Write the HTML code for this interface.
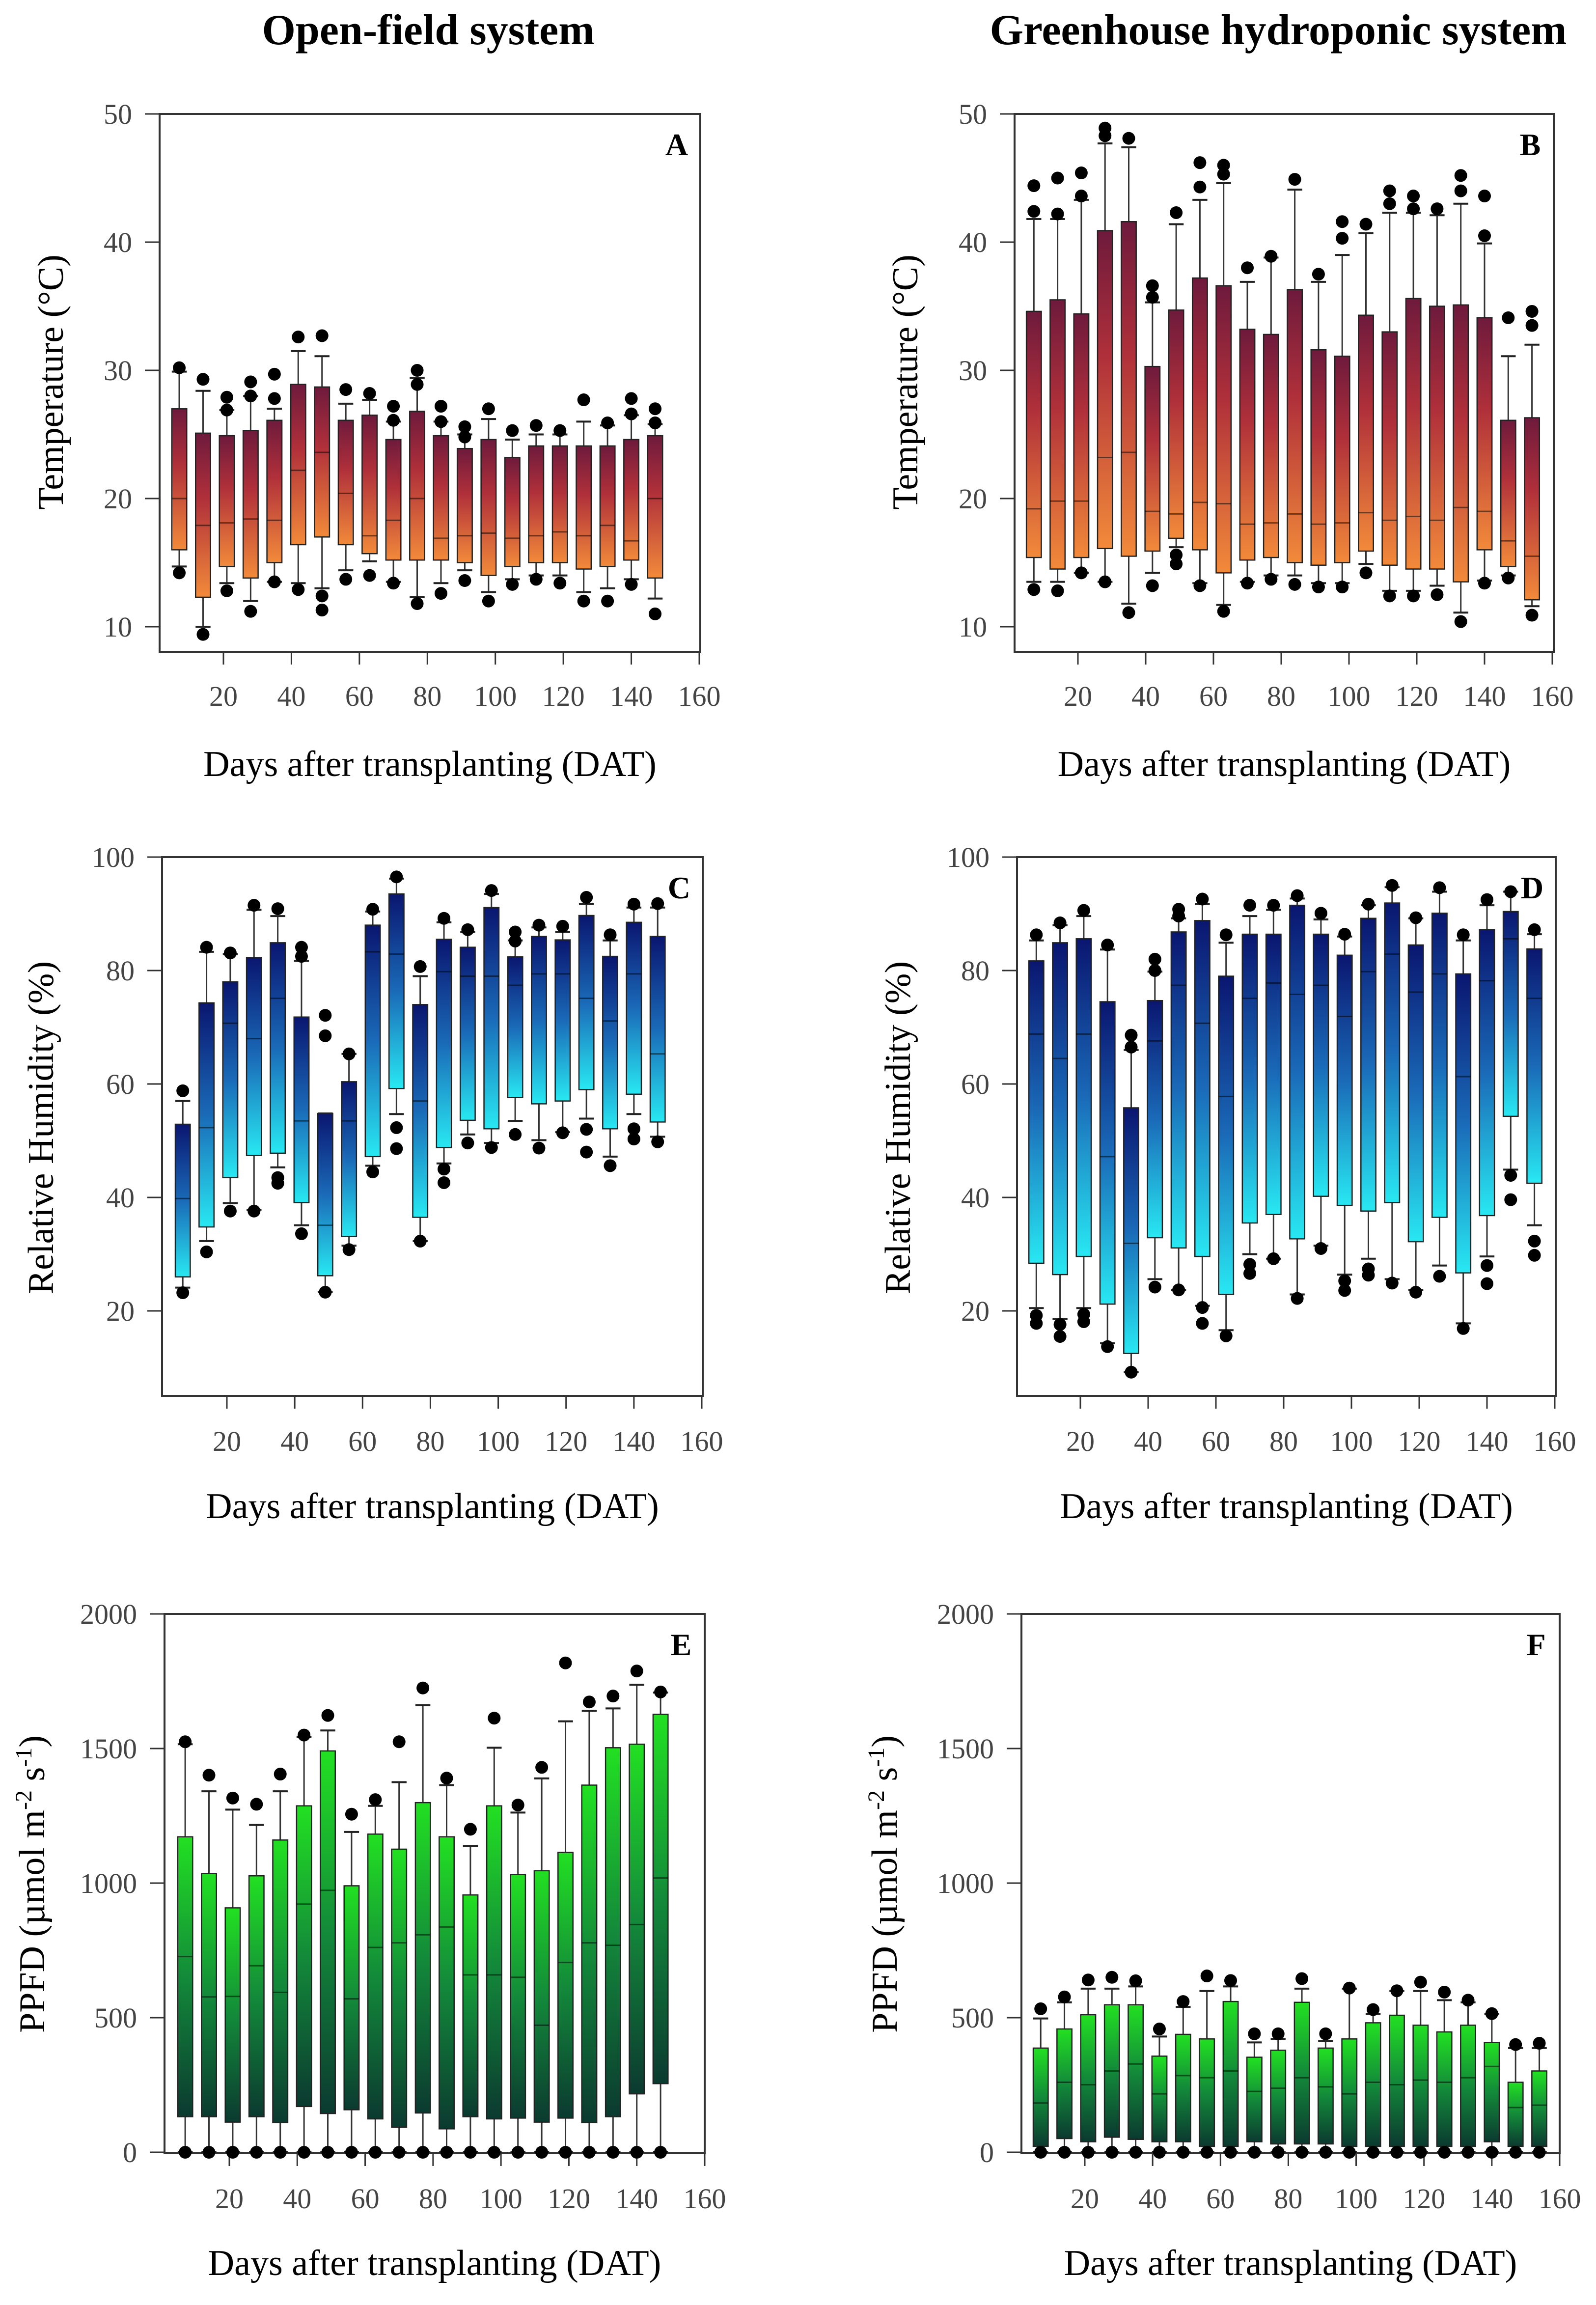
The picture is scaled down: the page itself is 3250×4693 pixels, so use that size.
<!DOCTYPE html>
<html><head><meta charset="utf-8"><style>
html,body{margin:0;padding:0;background:#fff}
svg{display:block}
text{font-family:"Liberation Serif",serif}
</style></head><body>
<svg id="fig" width="3250" height="4693" viewBox="0 0 3250 4693" xmlns="http://www.w3.org/2000/svg">
<defs>
<linearGradient id="gTemp" x1="0" y1="0" x2="0" y2="1"><stop offset="0" stop-color="#6e1a3c"/><stop offset="0.4" stop-color="#b0303a"/><stop offset="1" stop-color="#f28a3a"/></linearGradient>
<linearGradient id="gHum" x1="0" y1="0" x2="0" y2="1"><stop offset="0" stop-color="#0a1670"/><stop offset="0.5" stop-color="#1a6ab8"/><stop offset="1" stop-color="#28e8f2"/></linearGradient>
<linearGradient id="gPar" x1="0" y1="0" x2="0" y2="1"><stop offset="0" stop-color="#22e022"/><stop offset="0.5" stop-color="#138a3a"/><stop offset="1" stop-color="#0b3a30"/></linearGradient>
</defs>
<text x="872" y="90" font-size="88" font-weight="bold" text-anchor="middle">Open-field system</text>
<text x="2603" y="90" font-size="88" font-weight="bold" text-anchor="middle">Greenhouse hydroponic system</text>
</svg>
<script>
// ---- Panel A: open-field temperature ----
const daysA = [7,14,21,28,35,42,49,56,63,70,77,84,91,98,105,112,119,126,133,140,147];
const aQ1  = [16.0,12.3,14.7,13.8,15.0,16.4,17.0,16.4,15.7,15.2,15.2,15.2,15.0,14.0,14.7,15.0,15.0,14.5,14.7,15.2,13.8];
const aMed = [20.0,17.9,18.1,18.4,18.3,22.2,23.6,20.4,17.1,18.3,20.0,16.9,17.1,17.3,16.9,17.1,17.4,17.1,17.9,16.7,20.0];
const aQ3  = [27.0,25.1,24.9,25.3,26.1,28.9,28.7,26.1,26.5,24.6,26.8,24.9,23.9,24.6,23.2,24.1,24.1,24.1,24.1,24.6,24.9];
const aLo  = [14.7,10.0,13.4,12.0,13.5,13.4,13.0,14.4,15.1,13.5,12.3,13.4,14.4,12.7,13.7,14.0,14.0,12.7,13.0,13.7,12.2];
const aHi  = [29.9,28.4,26.9,28.0,27.0,31.5,31.1,27.4,27.7,26.0,29.4,26.0,25.0,26.2,24.6,25.0,25.0,26.0,25.7,26.5,25.8];
const aOutHi = [[30.2],[29.3],[27.9,26.9],[29.1,28.0],[29.7,27.8],[32.6],[32.7],[28.5],[28.2],[27.2,26.1],[30.0,28.9],[27.2,26.0],[25.6,24.8],[27.0],[25.3],[25.7],[25.3],[27.7],[25.9],[27.8,26.6],[27.0,25.9]];
const aOutLo = [[14.2],[9.4],[12.8],[11.2],[13.5],[12.9],[12.4,11.3],[13.7],[14.0],[13.4],[11.8],[12.6],[13.6],[12.0],[13.3],[13.7],[13.4],[12.0],[12.0],[13.3],[11.0]];

// ---- Panel B: greenhouse temperature ----
const daysB = [7,14,21,28,35,42,49,56,63,70,77,84,91,98,105,112,119,126,133,140,147,154];
const bQ1  = [15.4,14.5,15.4,16.1,15.5,15.9,16.9,16.0,14.2,15.2,15.4,15.0,14.8,15.0,15.9,14.8,14.5,14.5,13.5,16.0,14.7,12.1];
const bMed = [19.2,19.8,19.8,23.2,23.6,19.0,18.8,19.7,19.6,18.0,18.1,18.8,18.0,18.1,18.9,18.3,18.6,18.3,19.3,19.0,16.7,15.5];
const bQ3  = [34.6,35.5,34.4,40.9,41.6,30.3,34.7,37.2,36.6,33.2,32.8,36.3,31.6,31.1,34.3,33.0,35.6,35.0,35.1,34.1,26.1,26.3];
const bLo  = [13.5,13.5,14.2,13.5,11.8,14.2,16.2,13.4,11.7,13.5,14.0,14.0,13.4,13.4,14.9,12.8,12.8,13.2,11.1,13.6,14.0,11.6];
const bHi  = [41.8,41.8,43.3,47.7,47.4,35.3,41.4,43.3,44.6,36.9,38.8,44.1,36.9,39.0,40.7,42.3,42.3,42.1,43.0,39.9,31.1,32.0];
const bOutHi = [[44.4,42.4],[45.0,42.2],[45.4,43.6],[48.9,48.3],[48.1],[36.6,35.7],[42.3],[46.2,44.3],[46.0,45.3],[38.0],[38.9],[44.9],[37.5],[41.6,40.3],[41.4],[44.0,43.0],[43.6,42.6],[42.6],[45.2,44.0],[43.6,40.5],[34.1],[34.6,33.5]];
const bOutLo = [[12.9],[12.8],[14.2],[13.5],[11.1],[13.2],[15.6,14.9],[13.2],[11.2],[13.4],[13.7],[13.3],[13.1],[13.1],[14.2],[12.4],[12.4],[12.5],[10.4],[13.4],[13.8],[10.9]];

// ---- Panel C: open-field humidity ----
const daysC = daysA;
const cQ1  = [26.0,34.8,43.5,47.4,47.8,39.1,26.2,33.1,47.2,59.2,36.5,48.8,53.6,52.1,57.6,56.5,57.0,59.0,52.1,58.2,53.3];
const cMed = [39.8,52.3,70.7,68.0,75.1,53.5,35.1,53.5,83.3,82.9,57.0,79.8,79.0,79.0,77.4,79.4,79.4,75.1,71.1,79.4,65.3];
const cQ3  = [52.9,74.3,78.0,82.3,84.9,71.8,54.8,60.4,88.0,93.5,74.0,85.5,84.1,91.1,82.4,86.0,85.4,89.7,82.5,88.5,86.0];
const cLo  = [24.1,32.3,39.0,37.8,45.3,35.1,23.3,31.5,45.6,54.7,32.3,46.0,51.1,49.6,53.5,50.1,51.5,53.9,47.2,54.7,50.7];
const cHi  = [57.0,83.3,82.9,90.7,89.6,81.7,54.8,65.3,90.4,96.2,79.0,88.5,86.8,93.5,85.3,87.6,86.8,91.7,85.3,91.1,91.1];
const cOutHi = [[58.8],[84.1],[83.1],[91.5],[90.9],[84.1,82.5],[72.1,68.5],[65.3],[90.8],[96.5],[80.7],[89.2],[87.2],[94.1],[86.8,85.2],[88.0],[87.8],[92.9],[86.3],[91.7],[91.8]];
const cOutLo = [[23.2],[30.4],[37.6],[37.6],[43.5,42.5],[33.6],[23.3],[30.8],[44.5],[52.3,48.6],[32.3],[45.0,42.6],[49.6],[48.8],[51.1],[48.7],[51.4],[52.0,48.0],[45.6],[52.1,50.3],[49.8]];

// ---- Panel D: greenhouse humidity ----
const daysD = daysB;
const dQ1  = [28.4,26.4,29.6,21.2,12.5,32.9,31.1,29.6,22.9,35.5,37.0,32.7,40.2,38.6,37.6,39.1,32.2,36.5,26.7,36.8,54.3,42.5];
const dMed = [68.8,64.5,68.8,47.2,31.9,67.6,77.4,70.7,57.8,75.1,77.8,75.8,77.4,71.9,79.8,82.9,76.2,79.4,61.3,78.2,85.6,75.1];
const dQ3  = [81.7,84.9,85.6,74.5,55.8,74.7,86.8,88.8,79.0,86.4,86.4,91.5,86.4,82.7,89.2,91.9,84.5,90.1,79.4,87.2,90.4,83.8];
const dLo  = [20.5,18.6,20.5,14.3,9.2,25.6,23.7,20.9,16.6,30.0,29.2,22.9,31.5,26.4,29.2,25.6,23.7,28.0,17.8,29.6,44.9,35.1];
const dHi  = [85.3,88.0,89.6,83.7,66.0,79.8,89.2,91.7,84.9,89.6,90.7,92.7,89.0,86.0,91.5,94.7,89.2,93.9,85.3,91.5,93.9,86.4];
const dOutHi = [[86.3],[88.4],[90.6],[84.5],[68.6,66.5],[82.0,80.0],[90.8,89.6],[92.6],[86.3],[91.5],[91.5],[93.2],[90.1],[86.4],[91.7],[95.0],[89.3],[94.6],[86.3],[92.5],[93.9],[87.2]];
const dOutLo = [[19.2,17.8],[17.6,15.5],[19.4,18.1],[13.7],[9.2],[24.2],[23.7],[20.6,17.8],[15.6],[28.2,26.6],[29.2],[22.2],[31.0],[25.3,23.6],[27.4,26.3],[24.9],[23.3],[26.1],[16.9],[28.0,24.8],[43.9,39.6],[32.3,29.8]];

// ---- Panel E: open-field PPFD ----
const daysE = daysA;
const eQ1  = [132,132,112,132,110,170,144,158,124,93,146,87,132,124,127,112,127,110,132,217,255];
const eMed = [727,577,579,693,594,922,973,570,761,778,808,837,659,659,650,472,705,778,769,846,1019];
const eQ3  = [1172,1036,908,1027,1160,1287,1491,990,1182,1126,1299,1172,956,1287,1032,1046,1114,1364,1503,1516,1627];
const eLo  = [0,0,0,0,0,0,0,0,0,0,0,0,0,0,0,0,0,0,0,0,0];
const eHi  = [1516,1341,1273,1216,1341,1542,1567,1190,1287,1375,1661,1364,1138,1503,1262,1389,1601,1640,1649,1737,1708];
const eOutHi = [[1525],[1401],[1316],[1293],[1405],[1550],[1623],[1256],[1310],[1525],[1725],[1390],[1200],[1613],[1290],[1430],[1818],[1673],[1695],[1788],[1710]];
const eOutLo = [[0],[0],[0],[0],[0],[0],[0],[0],[0],[0],[0],[0],[0],[0],[0],[0],[0],[0],[0],[0],[0]];

// ---- Panel F: greenhouse PPFD ----
const daysF = daysB;
const fQ1  = [22,51,39,56,48,39,39,22,22,39,31,31,31,22,22,22,22,22,22,39,22,22];
const fMed = [183,260,251,302,328,217,285,277,302,226,238,277,243,217,260,251,268,260,277,319,166,175];
const fQ3  = [387,458,511,548,548,357,438,421,560,353,379,557,387,421,481,509,472,447,472,408,260,302];
const fLo  = [0,0,0,0,0,0,0,0,0,0,0,0,0,0,0,0,0,0,0,0,0,0];
const fHi  = [497,557,608,608,616,430,540,599,616,408,421,608,413,608,514,599,599,565,557,514,387,387];
const fOutHi = [[533],[577],[640],[650],[637],[458],[560],[655],[638],[440],[440],[645],[440],[610],[530],[600],[632],[595],[565],[515],[400],[405]];
const fOutLo = [[0],[0],[0],[0],[0],[0],[0],[0],[0],[0],[0],[0],[0],[0],[0],[0],[0],[0],[0],[0],[0],[0]];

const xTicks = [20,40,60,80,100,120,140,160];
const tTicks = [10,20,30,40,50];
const hTicks = [20,40,60,80,100];
const pTicks = [0,500,1000,1500,2000];

const NS = "http://www.w3.org/2000/svg";
const svg = document.getElementById('fig');
function mk(tag, attrs, parent){ const e=document.createElementNS(NS,tag); for(const k in attrs) e.setAttribute(k,attrs[k]); (parent||svg).appendChild(e); return e; }

function panel(p){
  const g = mk('g',{});
  
  
  const xs = d => p.x20 + (d-20)*(p.x160-p.x20)/140;
  const ys = v => p.yA + (v-p.vA)*(p.yB-p.yA)/(p.vB-p.vA);
  const fr = mk('rect',{x:p.L,y:p.T,width:p.R-p.L,height:p.B-p.T,fill:'none',stroke:'#333','stroke-width':4},g);
  
  
  p.yt.forEach(v=>{
    mk('line',{x1:p.L-30,x2:p.L,y1:ys(v),y2:ys(v),stroke:'#333','stroke-width':3},g);
    const t = mk('text',{x:p.L-56,y:ys(v)+20,'font-size':58,'text-anchor':'end',fill:'#444'},g);
    t.textContent = v;
    
    
  });
  xTicks.forEach(d=>{
    mk('line',{x1:xs(d),x2:xs(d),y1:p.B,y2:p.B+26,stroke:'#333','stroke-width':3},g);
    const t = mk('text',{x:xs(d),y:p.xl,'font-size':58,'text-anchor':'middle',fill:'#444'},g);
    t.textContent = d;
    
    
  });
  const bw = 4.4*(p.x160-p.x20)/140;
  p.days.forEach((d,i)=>{
    const cx = xs(d);
    const bg = mk('g',{},g);
    
    
    mk('line',{x1:cx,x2:cx,y1:ys(p.hi[i]),y2:ys(p.q3[i]),stroke:'#333','stroke-width':3},bg);
    mk('line',{x1:cx,x2:cx,y1:ys(p.q1[i]),y2:ys(p.lo[i]),stroke:'#333','stroke-width':3},bg);
    mk('line',{x1:cx-bw/2,x2:cx+bw/2,y1:ys(p.hi[i]),y2:ys(p.hi[i]),stroke:'#222','stroke-width':4},bg);
    mk('line',{x1:cx-bw/2,x2:cx+bw/2,y1:ys(p.lo[i]),y2:ys(p.lo[i]),stroke:'#222','stroke-width':4},bg);
    mk('rect',{x:cx-bw/2,y:ys(p.q3[i]),width:bw,height:ys(p.q1[i])-ys(p.q3[i]),fill:p.fill,stroke:'#222','stroke-width':2.5},bg);
    mk('line',{x1:cx-bw/2,x2:cx+bw/2,y1:ys(p.med[i]),y2:ys(p.med[i]),stroke:'rgba(0,0,0,0.5)','stroke-width':3},bg);
    p.oh[i].concat(p.ol[i]).forEach(v=>{
      const c = mk('circle',{cx:cx,cy:ys(v),r:13,fill:'#000'},bg);
      
      
    });
  });
  const lt = mk('text',{x:p.R-48,y:p.T+84,'font-size':64,'font-weight':'bold','text-anchor':'middle'},g);
  lt.textContent = p.id;
  
  
  const xt = mk('text',{x:(p.L+p.R)/2,y:p.xt,'font-size':74,'text-anchor':'middle'},g);
  xt.textContent = 'Days after transplanting (DAT)';
  
  
  const yt = mk('text',{x:0,y:0,'font-size':74,'text-anchor':'middle',transform:`translate(${p.ytx},${p.yty}) rotate(-90)`},g);
  yt.innerHTML = p.ylab;
  
  
}
const tLab = 'Temperature (°C)';
const hLab = 'Relative Humidity (%)';
const pLab = 'PPFD (µmol m<tspan dy="-26" font-size="48">-2</tspan><tspan dy="26"> s</tspan><tspan dy="-26" font-size="48">-1</tspan><tspan dy="26">)</tspan>';

panel({id:'A',L:325,R:1426,T:232,B:1327,x20:455,x160:1424,yA:232,vA:50,yB:1276,vB:10,yt:tTicks,xl:1437,xt:1580,ytx:128,yty:778,ylab:tLab,fill:'url(#gTemp)',days:daysA,q1:aQ1,med:aMed,q3:aQ3,lo:aLo,hi:aHi,oh:aOutHi,ol:aOutLo});
panel({id:'B',L:2066,R:3164,T:232,B:1327,x20:2195,x160:3161,yA:232,vA:50,yB:1276,vB:10,yt:tTicks,xl:1437,xt:1580,ytx:1868,yty:778,ylab:tLab,fill:'url(#gTemp)',days:daysB,q1:bQ1,med:bMed,q3:bQ3,lo:bLo,hi:bHi,oh:bOutHi,ol:bOutLo});
panel({id:'C',L:330,R:1431,T:1745,B:2842,x20:462,x160:1429,yA:1745,vA:100,yB:2669,vB:20,yt:hTicks,xl:2954,xt:3091,ytx:108,yty:2296,ylab:hLab,fill:'url(#gHum)',days:daysC,q1:cQ1,med:cMed,q3:cQ3,lo:cLo,hi:cHi,oh:cOutHi,ol:cOutLo});
panel({id:'D',L:2071,R:3168,T:1745,B:2842,x20:2200,x160:3166,yA:1745,vA:100,yB:2669,vB:20,yt:hTicks,xl:2954,xt:3091,ytx:1853,yty:2296,ylab:hLab,fill:'url(#gHum)',days:daysD,q1:dQ1,med:dMed,q3:dQ3,lo:dLo,hi:dHi,oh:dOutHi,ol:dOutLo});
panel({id:'E',L:335,R:1435,T:3286,B:4384,x20:467,x160:1435,yA:3286,vA:2000,yB:4382,vB:0,yt:pTicks,xl:4496,xt:4632,ytx:90,yty:3836,ylab:pLab,fill:'url(#gPar)',days:daysE,q1:eQ1,med:eMed,q3:eQ3,lo:eLo,hi:eHi,oh:eOutHi,ol:eOutLo});
panel({id:'F',L:2080,R:3176,T:3286,B:4384,x20:2209,x160:3176,yA:3286,vA:2000,yB:4382,vB:0,yt:pTicks,xl:4496,xt:4632,ytx:1826,yty:3836,ylab:pLab,fill:'url(#gPar)',days:daysF,q1:fQ1,med:fMed,q3:fQ3,lo:fLo,hi:fHi,oh:fOutHi,ol:fOutLo});
</script>
</body></html>
